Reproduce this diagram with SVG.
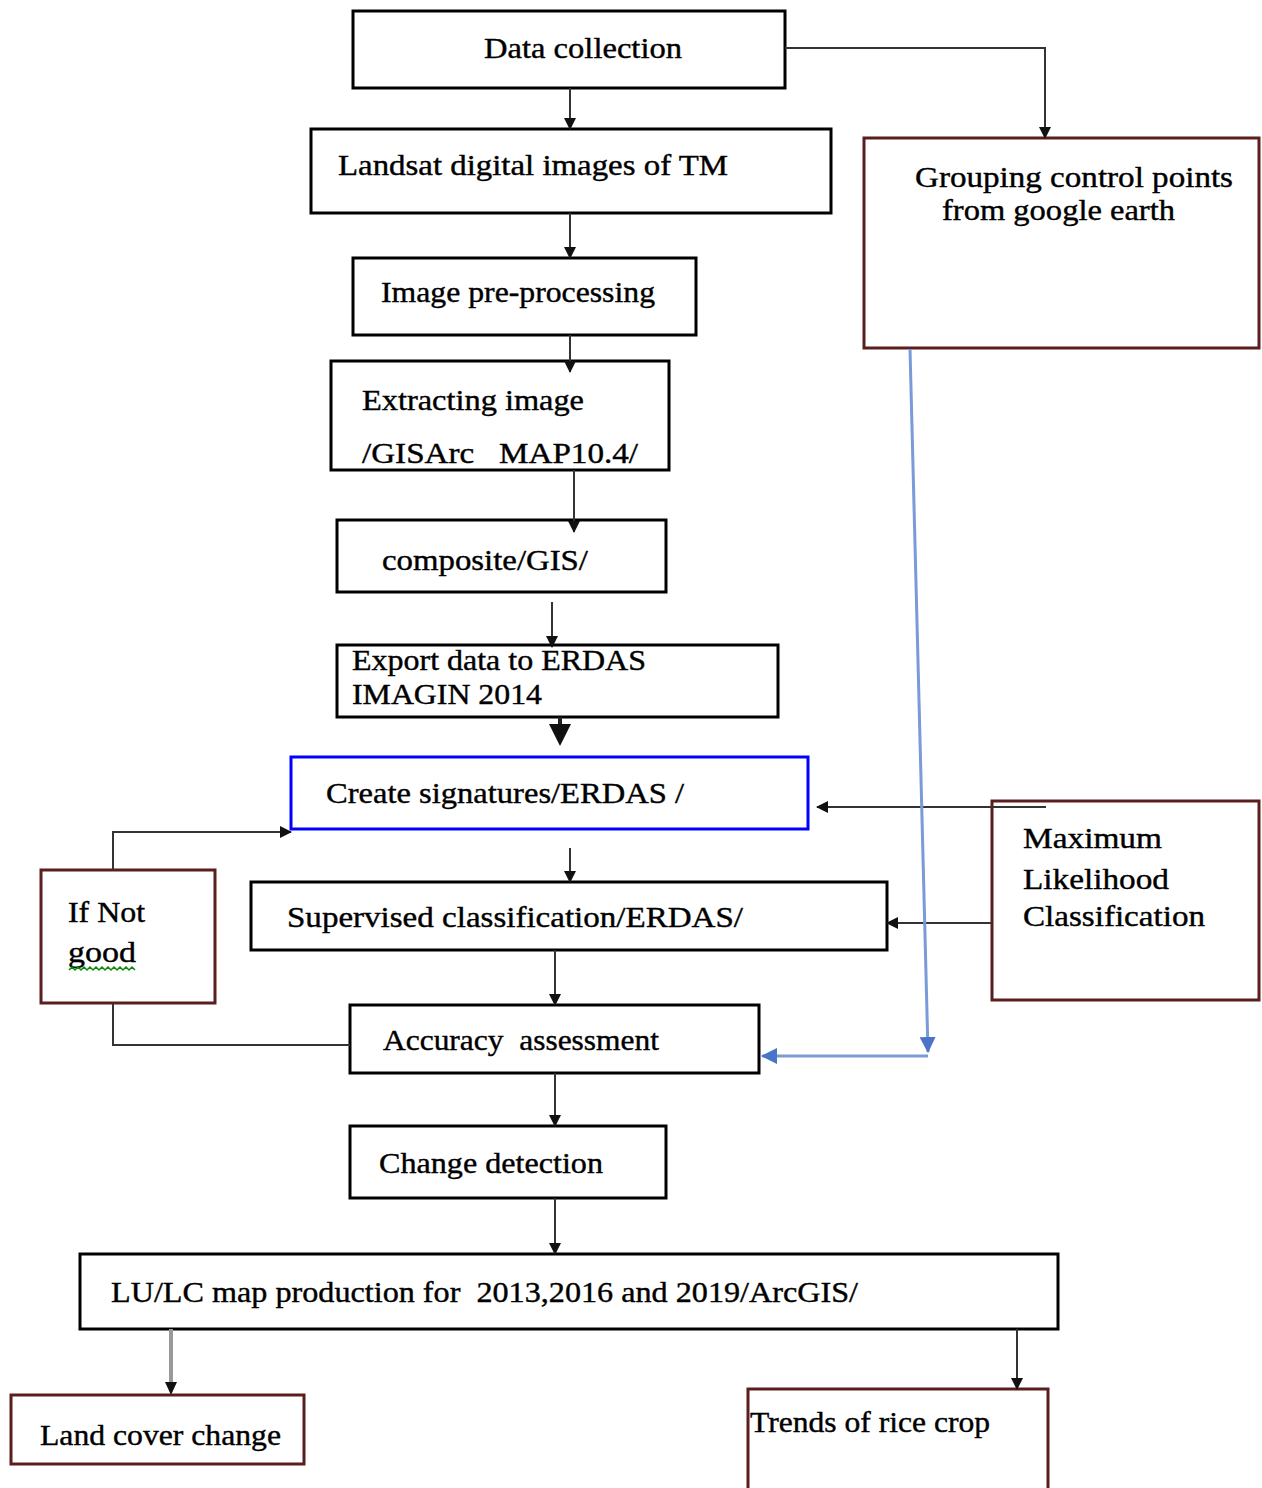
<svg xmlns="http://www.w3.org/2000/svg" width="1262" height="1488" viewBox="0 0 1262 1488">
<style>
.box{fill:#fff;stroke:#000;stroke-width:3}
.br{fill:#fff;stroke:#5a1e1e;stroke-width:3}
.bl{fill:#fff;stroke:#0000ff;stroke-width:3}
.t{font-family:"Liberation Serif","Times New Roman",serif;font-size:30px;fill:#000;stroke:#000;stroke-width:0.4}
.c{fill:none;stroke:#333;stroke-width:2}
.cb{fill:none;stroke:#7b9ad8;stroke-width:3}
</style>
<defs>
<marker id="a" markerUnits="userSpaceOnUse" markerWidth="12" markerHeight="12" refX="11" refY="6" orient="auto">
<path d="M0,0 L12,6 L0,12 z" fill="#111"/>
</marker>
<marker id="ab" markerUnits="userSpaceOnUse" markerWidth="16" markerHeight="16" refX="15" refY="8" orient="auto">
<path d="M0,0 L16,8 L0,16 z" fill="#4a74c8"/>
</marker>
</defs>
<rect width="1262" height="1488" fill="#fff"/>
<g id="n1"><rect class="box" x="353" y="11" width="432" height="77"/><text class="t" x="484" y="58" textLength="198" lengthAdjust="spacingAndGlyphs">Data collection</text></g>
<g id="n2"><rect class="box" x="311" y="129" width="520" height="84"/><text class="t" x="338" y="175" textLength="390" lengthAdjust="spacingAndGlyphs">Landsat digital images of TM</text></g>
<g id="n3"><rect class="br" x="864" y="138" width="395" height="210"/><text class="t" x="915" y="187" textLength="318" lengthAdjust="spacingAndGlyphs">Grouping control points</text><text class="t" x="942" y="220" textLength="233" lengthAdjust="spacingAndGlyphs">from google earth</text></g>
<g id="n4"><rect class="box" x="353" y="258" width="343" height="77"/><text class="t" x="381" y="302" textLength="274" lengthAdjust="spacingAndGlyphs">Image pre-processing</text></g>
<g id="n5"><rect class="box" x="331" y="361" width="338" height="109"/><text class="t" x="362" y="410" textLength="222" lengthAdjust="spacingAndGlyphs">Extracting image</text><text class="t" x="362" y="463" textLength="276" lengthAdjust="spacingAndGlyphs" xml:space="preserve">/GISArc   MAP10.4/</text></g>
<g id="n6"><rect class="box" x="337" y="520" width="329" height="72"/><text class="t" x="382" y="570" textLength="206" lengthAdjust="spacingAndGlyphs">composite/GIS/</text></g>
<g id="n7"><rect class="box" x="337" y="645" width="441" height="72"/><text class="t" x="352" y="670" textLength="294" lengthAdjust="spacingAndGlyphs">Export data to ERDAS</text><text class="t" x="352" y="704" textLength="190" lengthAdjust="spacingAndGlyphs">IMAGIN 2014</text></g>
<g id="n8"><rect class="bl" x="291" y="757" width="517" height="72"/><text class="t" x="326" y="803" textLength="358" lengthAdjust="spacingAndGlyphs">Create signatures/ERDAS /</text></g>
<g id="n9"><rect class="box" x="251" y="882" width="636" height="68"/><text class="t" x="287" y="927" textLength="456" lengthAdjust="spacingAndGlyphs">Supervised classification/ERDAS/</text></g>
<g id="n10"><rect class="br" x="992" y="801" width="267" height="199"/><text class="t" x="1023" y="848" textLength="139" lengthAdjust="spacingAndGlyphs">Maximum</text><text class="t" x="1023" y="889" textLength="146" lengthAdjust="spacingAndGlyphs">Likelihood</text><text class="t" x="1023" y="926" textLength="182" lengthAdjust="spacingAndGlyphs">Classification</text></g>
<g id="n11"><rect class="br" x="41" y="870" width="174" height="133"/><text class="t" x="68" y="922" textLength="77" lengthAdjust="spacingAndGlyphs">If Not</text><text class="t" x="68" y="962" textLength="68" lengthAdjust="spacingAndGlyphs">good</text><polyline points="69,970 72,967 75,970 78,967 81,970 84,967 87,970 90,967 93,970 96,967 99,970 102,967 105,970 108,967 111,970 114,967 117,970 120,967 123,970 126,967 129,970 132,967 135,970" fill="none" stroke="#0a8a0a" stroke-width="1.5"/></g>
<g id="n12"><rect class="box" x="350" y="1005" width="409" height="68"/><text class="t" x="383" y="1050" textLength="276" lengthAdjust="spacingAndGlyphs" xml:space="preserve">Accuracy  assessment</text></g>
<g id="n13"><rect class="box" x="350" y="1126" width="316" height="72"/><text class="t" x="379" y="1173" textLength="224" lengthAdjust="spacingAndGlyphs">Change detection</text></g>
<g id="n14"><rect class="box" x="80" y="1254" width="978" height="75"/><text class="t" x="111" y="1302" textLength="747" lengthAdjust="spacingAndGlyphs" xml:space="preserve">LU/LC map production for  2013,2016 and 2019/ArcGIS/</text></g>
<g id="n15"><rect class="br" x="11" y="1395" width="293" height="69"/><text class="t" x="40" y="1445" textLength="241" lengthAdjust="spacingAndGlyphs">Land cover change</text></g>
<g id="n16"><path class="br" d="M748,1490 V1389 H1048 V1490"/><text class="t" x="750" y="1432" textLength="240" lengthAdjust="spacingAndGlyphs">Trends of rice crop</text></g>
<g id="connectors">
<path class="c" d="M570,88 V129" marker-end="url(#a)"/>
<path class="c" d="M785,48 H1045 V138" marker-end="url(#a)"/>
<path class="c" d="M570,213 V258" marker-end="url(#a)"/>
<path class="c" d="M570,335 V372" marker-end="url(#a)"/>
<path class="c" d="M574,470 V532" marker-end="url(#a)"/>
<path class="c" d="M552,602 V647" marker-end="url(#a)"/>
<path fill="none" stroke="#222" stroke-width="4" d="M560,717 V730"/>
<polygon points="549,724 571,724 560,746" fill="#111"/>
<path class="c" d="M570,848 V882" marker-end="url(#a)"/>
<path class="c" d="M1046,807 H817" marker-end="url(#a)"/>
<path class="c" d="M992,923 H887" marker-end="url(#a)"/>
<path class="c" stroke-width="3" d="M113,870 V832 H291" marker-end="url(#a)"/>
<path class="c" stroke-width="3" stroke="#000" d="M113,1003 V1045 H350"/>
<path class="c" d="M555,950 V1005" marker-end="url(#a)"/>
<path class="cb" d="M910,349 L928,1052" marker-end="url(#ab)"/>
<path class="cb" d="M928,1056 H762" marker-end="url(#ab)"/>
<path class="c" d="M555,1073 V1126" marker-end="url(#a)"/>
<path class="c" d="M555,1198 V1254" marker-end="url(#a)"/>
<path fill="none" stroke="#999" stroke-width="4" d="M171,1329 V1384"/>
<polygon points="165,1382 177,1382 171,1395" fill="#111"/>
<path class="c" d="M1017,1329 V1389" marker-end="url(#a)"/>
</g>
</svg>
